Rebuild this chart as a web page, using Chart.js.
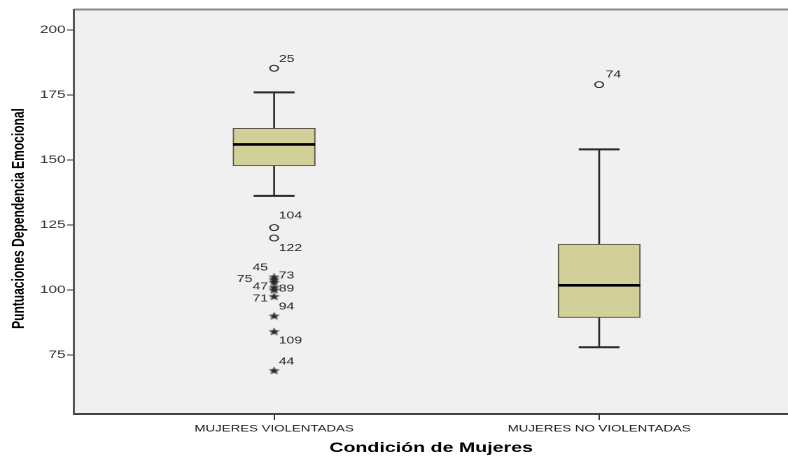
<!DOCTYPE html>
<html lang="es">
<head>
    <meta charset="UTF-8">
    <title>Puntuaciones Dependencia Emocional</title>
    <script src="https://cdn.jsdelivr.net/npm/chart.js"></script>
    <style>
        body {
            margin: 0;
            background: #ffffff;
            overflow: hidden;
        }

        /* the reference is stretched sideways, so the chart is drawn narrow and widened */
        #wrap {
            width: 563px;
            height: 459px;
            transform: scaleX(1.4);
            transform-origin: 0 0;
        }
    </style>
</head>
<body>
    <div id="wrap">
        <canvas id="boxChart" width="563" height="459"></canvas>
    </div>

    <script>
        // Box summaries per group.
        const groups = ['MUJERES VIOLENTADAS', 'MUJERES NO VIOLENTADAS'];
        const whiskerLow = [136.2, 78.0];
        const q1 = [147.8, 89.4];
        const median = [156.0, 101.8];
        const q3 = [162.2, 117.6];
        const whiskerHigh = [176.0, 154.1];

        // Outliers (o) and extremes (*), with their case numbers.
        const circleGroup = [1, 1, 1, 2];
        const circleValues = [185.3, 124.0, 120.0, 179.0];
        const circleIds = ['25', '104', '122', '74'];

        const starGroup = [1, 1, 1, 1, 1, 1, 1, 1, 1];
        const starValues = [105.0, 104.0, 103.0, 101.0, 100.0, 97.5, 90.0, 84.0, 69.0];
        const starIds = ['45', '73', '75', '47', '89', '71', '94', '109', '44'];

        const yTicks = [75, 100, 125, 150, 175, 200];

        // Where each case number sits next to its mark (pixels, before the stretch).
        const circleLabelPos = [[3.4, -9, 'left'], [3.3, -12, 'left'], [3.3, 10, 'left'], [4.6, -10, 'left']];
        const starLabelPos = [[-4.3, -9.3, 'right'], [3.3, -3.6, 'left'], [-15.5, -3, 'right'], [-4.3, -0.7, 'right'],
                              [3.3, -1, 'left'], [-4.3, 2.2, 'right'], [3.3, -9.3, 'left'], [3.3, 9, 'left'], [3.3, -8.6, 'left']];

        const font = "'Liberation Sans', Arial, sans-serif";
        const boxWidth = 58.6;
        const capHalf = 14.6;

        // small five-point star used for the extreme values
        function makeStar() {
            const c = document.createElement('canvas');
            c.width = 9;
            c.height = 9;
            const g = c.getContext('2d');
            g.beginPath();
            for (let k = 0; k < 10; k++) {
                const r = k % 2 === 0 ? 4.3 : 1.8;
                const a = -Math.PI / 2 + k * Math.PI / 5;
                const px = 4.5 + r * Math.cos(a);
                const py = 4.8 + r * Math.sin(a);
                if (k === 0) g.moveTo(px, py); else g.lineTo(px, py);
            }
            g.closePath();
            g.fillStyle = '#2a2a2a';
            g.fill();
            return c;
        }

        const boxPlugin = {
            id: 'boxParts',
            beforeDraw(chart) {
                const { ctx, chartArea: a } = chart;
                ctx.save();
                ctx.fillStyle = '#f0f0f0';
                ctx.fillRect(a.left, a.top, a.right - a.left, a.bottom - a.top);
                ctx.strokeStyle = '#8c8c8c';
                ctx.lineWidth = 2;
                ctx.beginPath();
                ctx.moveTo(a.left, a.top);
                ctx.lineTo(a.right, a.top);
                ctx.stroke();
                ctx.restore();
            },
            beforeDatasetsDraw(chart) {
                const { ctx, scales: { x, y } } = chart;
                ctx.save();
                ctx.strokeStyle = '#2a2a2a';
                groups.forEach((g, i) => {
                    const px = x.getPixelForValue(i + 1);
                    ctx.lineWidth = 1.3;
                    ctx.beginPath();
                    ctx.moveTo(px, y.getPixelForValue(whiskerLow[i]));
                    ctx.lineTo(px, y.getPixelForValue(q1[i]));
                    ctx.moveTo(px, y.getPixelForValue(q3[i]));
                    ctx.lineTo(px, y.getPixelForValue(whiskerHigh[i]));
                    ctx.stroke();
                    ctx.lineWidth = 2;
                    ctx.beginPath();
                    [whiskerLow[i], whiskerHigh[i]].forEach(v => {
                        const py = y.getPixelForValue(v);
                        ctx.moveTo(px - capHalf, py);
                        ctx.lineTo(px + capHalf, py);
                    });
                    ctx.stroke();
                });
                ctx.restore();
            },
            afterDatasetsDraw(chart) {
                const { ctx, scales: { x, y }, chartArea: a } = chart;
                ctx.save();
                ctx.strokeStyle = '#000000';
                ctx.lineWidth = 2.6;
                groups.forEach((g, i) => {
                    const px = x.getPixelForValue(i + 1);
                    const py = y.getPixelForValue(median[i]);
                    ctx.beginPath();
                    ctx.moveTo(px - boxWidth / 2, py);
                    ctx.lineTo(px + boxWidth / 2, py);
                    ctx.stroke();
                });

                // case numbers
                ctx.fillStyle = '#2a2a2a';
                ctx.font = '10px ' + font;
                ctx.textBaseline = 'middle';
                const label = (metaIndex, ids, pos) => {
                    chart.getDatasetMeta(metaIndex).data.forEach((pt, j) => {
                        ctx.textAlign = pos[j][2];
                        ctx.fillText(ids[j], pt.x + pos[j][0], pt.y + pos[j][1]);
                    });
                };
                label(1, circleIds, circleLabelPos);
                label(2, starIds, starLabelPos);

                // axis titles
                ctx.fillStyle = '#000000';
                ctx.font = 'bold 14px ' + font;
                ctx.textAlign = 'center';
                ctx.fillText('Condición de Mujeres', (a.left + a.right) / 2, 448);
                ctx.translate(13.6, 218.5);
                ctx.rotate(-Math.PI / 2);
                ctx.font = 'bold 12px ' + font;
                ctx.fillText('Puntuaciones Dependencia Emocional', 0, 0);
                ctx.restore();
            }
        };

        new Chart(document.getElementById('boxChart'), {
            type: 'bar',
            data: {
                datasets: [{
                    type: 'bar',
                    data: groups.map((g, i) => ({ x: i + 1, y: [q1[i], q3[i]] })),
                    backgroundColor: '#d3cf98',
                    borderColor: '#5a5a4a',
                    borderWidth: 1,
                    borderSkipped: false,
                    barThickness: boxWidth
                }, {
                    type: 'scatter',
                    data: circleValues.map((v, j) => ({ x: circleGroup[j], y: v })),
                    pointStyle: 'circle',
                    pointRadius: 3,
                    borderColor: '#2a2a2a',
                    backgroundColor: 'rgba(0,0,0,0)',
                    borderWidth: 1
                }, {
                    type: 'scatter',
                    data: starValues.map((v, j) => ({ x: starGroup[j], y: v })),
                    pointStyle: makeStar()
                }]
            },
            options: {
                responsive: false,
                animation: false,
                devicePixelRatio: 2,
                layout: { autoPadding: false, padding: { top: 9.5, right: 0, bottom: 0, left: 0 } },
                plugins: {
                    legend: { display: false },
                    tooltip: { enabled: false }
                },
                scales: {
                    x: {
                        type: 'linear',
                        min: 0.3846,
                        max: 2.5815,
                        offset: false,
                        afterBuildTicks: s => { s.ticks = groups.map((g, i) => ({ value: i + 1 })); },
                        afterFit: s => { s.height = 45; s.paddingLeft = 0; s.paddingRight = 0; },
                        ticks: {
                            callback: v => groups[v - 1],
                            maxRotation: 0,
                            autoSkip: false,
                            padding: 3,
                            color: '#1a1a1a',
                            font: { family: font, size: 9.5 }
                        },
                        grid: { offset: false, drawOnChartArea: false, tickLength: 6, color: '#333333', lineWidth: 1 },
                        border: { color: '#444444', width: 2 }
                    },
                    y: {
                        min: 52.3,
                        max: 207.9,
                        afterBuildTicks: s => { s.ticks = yTicks.map(v => ({ value: v })); },
                        afterFit: s => { s.width = 52.9; s.paddingTop = 0; s.paddingBottom = 0; },
                        ticks: {
                            padding: 1,
                            color: '#333333',
                            font: { family: font, size: 11 }
                        },
                        grid: { drawOnChartArea: false, tickLength: 5, color: '#333333', lineWidth: 1 },
                        border: { color: '#555555', width: 1.5 }
                    }
                }
            },
            plugins: [boxPlugin]
        });
    </script>
</body>
</html>
